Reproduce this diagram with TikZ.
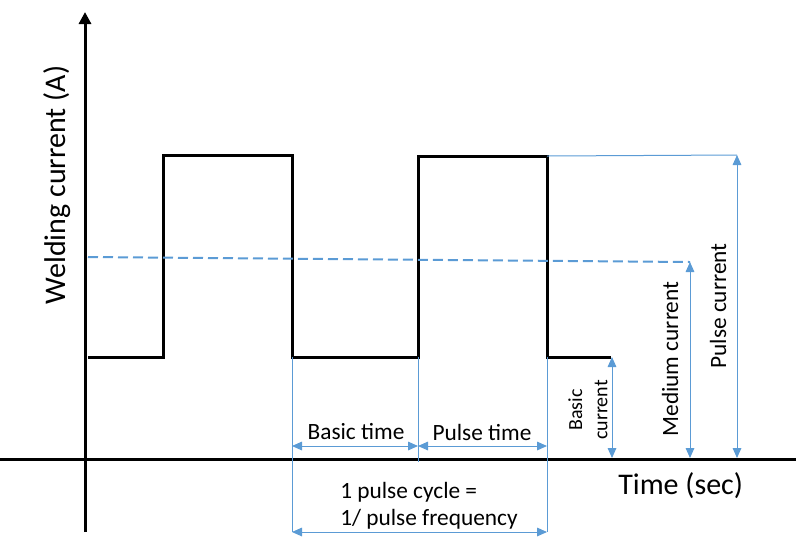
\documentclass[tikz,border=0pt]{standalone}
\usepackage{fontspec}
\setmainfont{Carlito}
\usepackage{xcolor}
\usetikzlibrary{arrows.meta}
\definecolor{dimblue}{HTML}{5B9BD5}

\tikzset{
  axisline/.style={line width=2.25pt, black},
  waveline/.style={line width=2.25pt, black, line join=miter},
  guideline/.style={line width=0.75pt, dimblue},
  dimarrow/.style={line width=0.75pt, dimblue, {Triangle[length=7.5pt,width=6.5pt]}-{Triangle[length=7.5pt,width=6.5pt]}},
  meanline/.style={line width=1.5pt, dimblue, dash pattern=on 7.5pt off 3.75pt},
  lbl/.style={inner sep=0.75pt, font=\fontsize{17.5}{21}\selectfont}
}

\begin{document}
\begin{tikzpicture}[x=0.75pt,y=0.75pt,yscale=-1,xscale=1]
\useasboundingbox (0,0) rectangle (796,537);

% axes
\coordinate (ybot) at (85,532);
\coordinate (ytop) at (85,12);
\coordinate (xleft) at (0,459);
\coordinate (xright) at (796,459);
\draw [axisline, -{Triangle[length=9pt,width=9pt]}] (ybot) -- (ytop);
\draw [axisline] (xleft) -- (xright);

% pulse wave
\coordinate (w0) at (88,357);
\coordinate (w1) at (163,357);
\coordinate (w2) at (163,155);
\coordinate (w3) at (292,155);
\coordinate (w4) at (292,357);
\coordinate (w5) at (418,357);
\coordinate (w6) at (418,156);
\coordinate (w7) at (547,156);
\coordinate (w8) at (547,357);
\coordinate (w9) at (611,357);
\draw [waveline] (w0) -- (w1) -- (w2) -- (w3) -- (w4) -- (w5) -- (w6) -- (w7) -- (w8) -- (w9);

% mean current
\coordinate (m0) at (88,257);
\coordinate (m1) at (690,262);
\draw [meanline] (m0) -- (m1);

% guide lines
\coordinate (g1) at (292,532);
\coordinate (g2) at (418,462);
\coordinate (g3) at (547,532);
\coordinate (pc) at (737,155);
\draw [guideline] (w4) -- (g1);
\draw [guideline] (w5) -- (g2);
\draw [guideline] (w8) -- (g3);
\draw [guideline] (w7) -- (pc);

% current arrows
\coordinate (bc0) at (612,357);
\coordinate (bc1) at (612,458);
\coordinate (mc1) at (690,458);
\coordinate (pc1) at (737,458);
\draw [dimarrow] (bc0) -- (bc1);
\draw [dimarrow] (m1) -- (mc1);
\draw [dimarrow] (pc) -- (pc1);

% time arrows
\coordinate (t0) at (292,446);
\coordinate (t1) at (418,446);
\coordinate (t2) at (547,446);
\coordinate (c0) at (292,532);
\coordinate (c1) at (547,532);
\draw [dimarrow] (t0) -- (t1);
\draw [dimarrow] (t1) -- (t2);
\draw [dimarrow] (c0) -- (c1);

% labels
\node (ylabel) [inner sep=0.75pt, rotate=90, font=\fontsize{22.5}{27}\selectfont] at (57,185) {Welding current (A)};
\node (xlabel) [anchor=base west, inner sep=0.75pt, font=\fontsize{22.5}{27}\selectfont] at (617,494) {Time (sec)};
\node (basictime) [lbl] at (356,432) {Basic time};
\node (pulsetime) [lbl] at (482,432) {Pulse time};
\node (cycle1) [lbl, anchor=base west] at (339,498) {1 pulse cycle =};
\node (cycle2) [lbl, anchor=base west] at (339,525) {1/ pulse frequency};
\node (basiccur) [inner sep=0.75pt, rotate=90, align=center, font=\fontsize{15}{19}\selectfont] at (588,410) {Basic\\current};
\node (mediumcur) [lbl, rotate=90] at (670,359) {Medium current};
\node (pulsecur) [lbl, rotate=90] at (718,306) {Pulse current};
\end{tikzpicture}
\end{document}
